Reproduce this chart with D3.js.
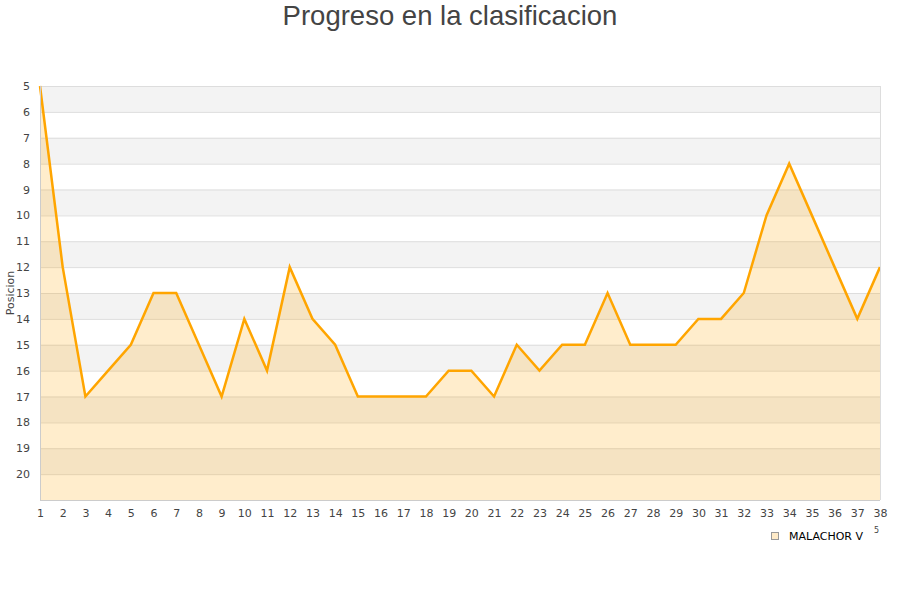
<!DOCTYPE html>
<html>
<head>
<meta charset="utf-8">
<script src="https://cdn.jsdelivr.net/npm/d3@7"></script>
<style>
  body { margin: 0; background: #fff; }
  svg text { font-family: "DejaVu Sans", sans-serif; }
</style>
</head>
<body>
<svg id="chart" width="900" height="600"></svg>
<script>
// DATA
const jornadas = d3.range(1, 39);
const posiciones = [5, 12, 17, 16, 15, 13, 13, 15, 17, 14, 16, 12, 14, 15, 17, 17, 17, 17, 16, 16,
  17, 15, 16, 15, 15, 13, 15, 15, 15, 14, 14, 13, 10, 8, 10, 12, 14, 12];
const yTicks = d3.range(5, 21);
const equipo = "MALACHOR V";
const titulo = "Progreso en la clasificacion";

// CANVAS SETUP
const svg = d3.select("#chart");
const margin = { top: 86, right: 20, bottom: 100, left: 40 },
  width = 900 - margin.left - margin.right,
  height = 600 - margin.top - margin.bottom;

const x = d3.scaleLinear().domain([1, 38]).range([0, width]);
const y = d3.scaleLinear().domain([5, 21]).range([0, height]);

const g = svg.append("g").attr("transform", `translate(${margin.left},${margin.top})`);

// bands
g.selectAll("rect.band")
  .data(yTicks.filter((d) => d % 2 === 1))
  .join("rect")
  .attr("class", "band")
  .attr("x", 0)
  .attr("width", width)
  .attr("y", (d) => y(d))
  .attr("height", y(6) - y(5))
  .attr("fill", "#f3f3f3");

// grid
g.selectAll("line.grid")
  .data(yTicks.concat([21]))
  .join("line")
  .attr("class", "grid")
  .attr("x1", 0)
  .attr("x2", width)
  .attr("y1", (d) => y(d) + 0.5)
  .attr("y2", (d) => y(d) + 0.5)
  .attr("stroke", "#dddddd");

const data = jornadas.map((j, i) => ({ j, p: posiciones[i] }));

// area
g.append("path")
  .datum(data)
  .attr("fill", "#ffa500")
  .attr("fill-opacity", 0.2)
  .attr("d", d3.area().x((d) => x(d.j)).y0(y(21)).y1((d) => y(d.p)));

// line
g.append("path")
  .datum(data)
  .attr("fill", "none")
  .attr("stroke", "#ffa500")
  .attr("stroke-width", 2.5)
  .attr("stroke-linejoin", "miter")
  .attr("d", d3.line().x((d) => x(d.j)).y((d) => y(d.p)));

// borders
g.append("line").attr("x1", 0.5).attr("x2", 0.5).attr("y1", 0).attr("y2", height).attr("stroke", "#cccccc");
g.append("line").attr("x1", width + 0.5).attr("x2", width + 0.5).attr("y1", 0).attr("y2", height).attr("stroke", "#dddddd");
g.append("line").attr("x1", 0).attr("x2", width).attr("y1", height + 0.5).attr("y2", height + 0.5).attr("stroke", "#cccccc");

// AXES
const yAxis = g.append("g")
  .call(d3.axisLeft(y).tickValues(yTicks).tickSize(0).tickPadding(10).tickFormat(d3.format("d")));
yAxis.select(".domain").remove();
yAxis.selectAll("text").attr("font-size", 11).attr("fill", "#444");

const xAxis = g.append("g")
  .attr("transform", `translate(0,${height})`)
  .call(d3.axisBottom(x).tickValues(jornadas).tickSize(0).tickPadding(9).tickFormat(d3.format("d")));
xAxis.select(".domain").remove();
xAxis.selectAll("text").attr("font-size", 11).attr("fill", "#444");

svg.append("text")
  .attr("transform", `translate(14,${margin.top + height / 2}) rotate(-90)`)
  .attr("text-anchor", "middle")
  .attr("font-size", 11)
  .attr("fill", "#444")
  .text("Posicion");

svg.append("text")
  .attr("x", 450)
  .attr("y", 25)
  .attr("text-anchor", "middle")
  .style("font-family", "'Liberation Sans', Arial, sans-serif")
  .attr("font-size", 27.5)
  .attr("fill", "#444")
  .text(titulo);

// LEGEND
const legend = svg.append("g").attr("transform", "translate(771,532)");
legend.append("rect")
  .attr("x", 0.5).attr("y", 0.5)
  .attr("width", 7).attr("height", 7)
  .attr("fill", "#ffebc8")
  .attr("stroke", "#999");
legend.append("text")
  .attr("x", 18).attr("y", 8)
  .attr("font-size", 11)
  .attr("fill", "#000")
  .text(equipo);
legend.append("text")
  .attr("x", 103).attr("y", 1)
  .attr("font-size", 8)
  .attr("fill", "#444")
  .text("5");
</script>
</body>
</html>
